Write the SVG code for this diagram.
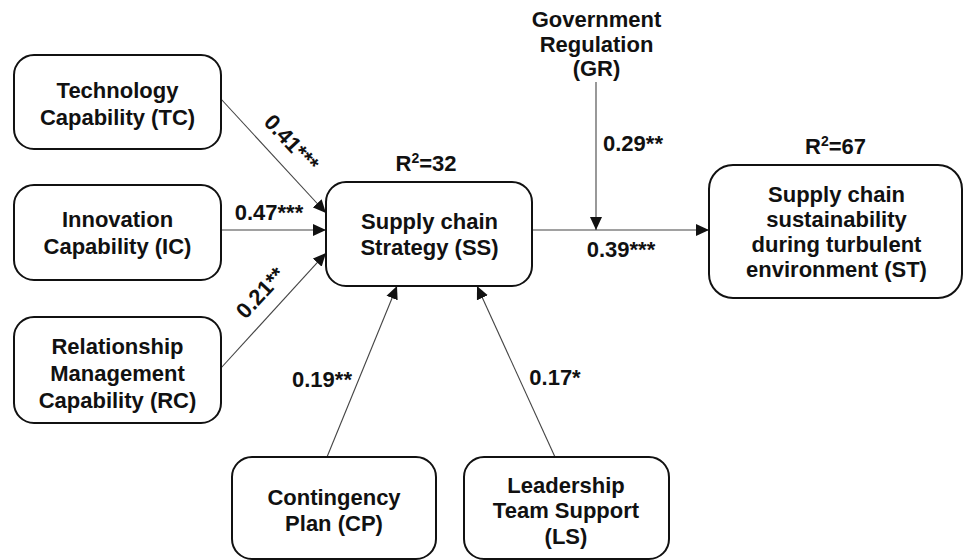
<svg xmlns="http://www.w3.org/2000/svg" width="966" height="560" viewBox="0 0 966 560">
<defs>
<style>
.box{fill:#fff;stroke:#111;stroke-width:2}
.t{font-family:"Liberation Sans",Arial,sans-serif;font-weight:bold;font-size:22px;fill:#111;text-anchor:middle}
.ln{stroke:#444;stroke-width:1.1;fill:none;marker-end:url(#ah)}
</style>
<marker id="ah" markerUnits="userSpaceOnUse" markerWidth="14" markerHeight="13" refX="13" refY="6" orient="auto" viewBox="0 0 14 12">
<path d="M0,0 L13,6 L0,12 z" fill="#111"/>
</marker>
</defs>
<rect width="966" height="560" fill="#fff"/>
<g id="connectors">
<line class="ln" x1="221" y1="99" x2="326" y2="213"/>
<line class="ln" x1="221" y1="230" x2="326" y2="230"/>
<line class="ln" x1="221" y1="368" x2="326" y2="253"/>
<line class="ln" x1="532" y1="230" x2="709" y2="230"/>
<line class="ln" x1="596" y1="82" x2="596" y2="230"/>
<line class="ln" x1="327" y1="457" x2="397" y2="286"/>
<line class="ln" x1="555" y1="457" x2="477" y2="286"/>
<text class="t" transform="translate(286,148) rotate(47)">0.41***</text>
<text class="t" x="269" y="220">0.47***</text>
<text class="t" transform="translate(266,298) rotate(-47)">0.21**</text>
<text class="t" x="322" y="387">0.19**</text>
<text class="t" x="555" y="385">0.17*</text>
<text class="t" x="633" y="151">0.29**</text>
<text class="t" x="621" y="257">0.39***</text>
</g>
<g id="TC">
<rect class="box" x="14" y="55" width="207" height="94" rx="20"/>
<text class="t" x="117.5" y="98">Technology</text>
<text class="t" x="117.5" y="125">Capability (TC)</text>
</g>
<g id="IC">
<rect class="box" x="14" y="185" width="207" height="95" rx="20"/>
<text class="t" x="117.5" y="227">Innovation</text>
<text class="t" x="117.5" y="254">Capability (IC)</text>
</g>
<g id="RC">
<rect class="box" x="14" y="317" width="207" height="106" rx="20"/>
<text class="t" x="117.5" y="354">Relationship</text>
<text class="t" x="117.5" y="381">Management</text>
<text class="t" x="117.5" y="408">Capability (RC)</text>
</g>
<g id="SS">
<rect class="box" x="326" y="182" width="206" height="104" rx="20"/>
<text class="t" x="426" y="171">R<tspan font-size="14" dy="-8">2</tspan><tspan dy="8">=32</tspan></text>
<text class="t" x="429.5" y="229">Supply chain</text>
<text class="t" x="429.5" y="255">Strategy (SS)</text>
</g>
<g id="GR">
<text class="t" x="596.5" y="27">Government</text>
<text class="t" x="596.5" y="52">Regulation</text>
<text class="t" x="596.5" y="76">(GR)</text>
</g>
<g id="ST">
<rect class="box" x="709" y="165" width="253" height="133" rx="24"/>
<text class="t" x="835.5" y="154">R<tspan font-size="14" dy="-8">2</tspan><tspan dy="8">=67</tspan></text>
<text class="t" x="836.5" y="202">Supply chain</text>
<text class="t" x="836.5" y="227">sustainability</text>
<text class="t" x="836.5" y="252">during turbulent</text>
<text class="t" x="836.5" y="277">environment (ST)</text>
</g>
<g id="CP">
<rect class="box" x="232" y="457" width="204" height="102" rx="20"/>
<text class="t" x="334" y="505">Contingency</text>
<text class="t" x="334" y="531">Plan (CP)</text>
</g>
<g id="LS">
<rect class="box" x="464" y="457" width="205" height="102" rx="20"/>
<text class="t" x="566" y="493">Leadership</text>
<text class="t" x="566" y="518">Team Support</text>
<text class="t" x="566" y="544">(LS)</text>
</g>
</svg>
